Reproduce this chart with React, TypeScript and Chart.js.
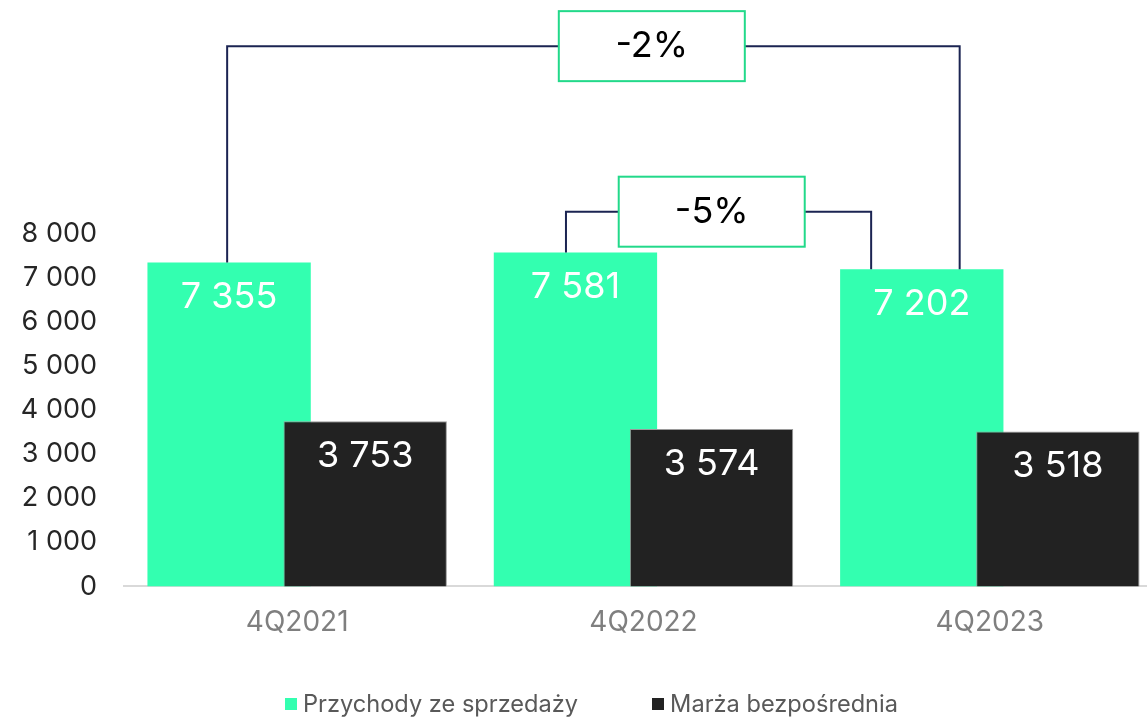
import React, { useEffect, useRef } from 'react';
import { Chart, registerables } from 'chart.js';

Chart.register(...registerables);

const categories = ['4Q2021', '4Q2022', '4Q2023'];
const seriesNames = ['Przychody ze sprzedaży', 'Marża bezpośrednia'];
const revenue = [7355, 7581, 7202];
const margin = [3753, 3574, 3518];
const yTickValues = [0, 1000, 2000, 3000, 4000, 5000, 6000, 7000, 8000];
const changeLabels = ['-2%', '-5%'];

const GREEN = '#33ffb0';
const DARK = '#222222';
const NAVY = '#1b2452';
const BOX_GREEN = '#22d98a';
const FONT = 'Inter, "Noto Sans", sans-serif';

const fmt = (v: number) => String(v).replace(/\B(?=(\d{3})+(?!\d))/g, ' ');

// bracket annotations: which revenue bars are connected
const brackets = [
  { from: 0, to: 2, fromOff: -0.012, toOff: 0.232, level: 12270, boxAt: 1.024, text: changeLabels[0] },
  { from: 1, to: 2, fromOff: -0.058, toOff: -0.31, level: 8510, boxAt: 1.197, text: changeLabels[1] },
];

const customPlugin = {
  id: 'customDraw',
  beforeDatasetDraw(chart: any, args: any) {
    if (args.index === 1) return false;
  },
  afterDatasetsDraw(chart: any) {
    const ctx = chart.ctx;
    // draw the second series on top of the first
    const m1 = chart.getDatasetMeta(1);
    ctx.save();
    m1.controller.draw();
    ctx.restore();

    // value labels
    ctx.save();
    ctx.fillStyle = '#ffffff';
    ctx.font = `36px ${FONT}`;
    ctx.textAlign = 'center';
    ctx.textBaseline = 'middle';
    [0, 1].forEach((di) => {
      const meta = chart.getDatasetMeta(di);
      const data = chart.data.datasets[di].data as number[];
      meta.data.forEach((el: any, i: number) => {
        ctx.fillText(fmt(data[i]), el.x, el.y + 35);
      });
    });
    ctx.restore();

    // brackets
    const m0 = chart.getDatasetMeta(0);
    const xScale = chart.scales.x;
    const yScale = chart.scales.y;
    brackets.forEach((b) => {
      const a: any = m0.data[b.from];
      const c: any = m0.data[b.to];
      const x1 = a.x + b.fromOff * a.width;
      const x2 = c.x + b.toOff * c.width;
      const ly = yScale.getPixelForValue(b.level);
      ctx.save();
      ctx.strokeStyle = NAVY;
      ctx.lineWidth = 2;
      ctx.beginPath();
      ctx.moveTo(x1, a.y);
      ctx.lineTo(x1, ly);
      ctx.lineTo(x2, ly);
      ctx.lineTo(x2, c.y);
      ctx.stroke();
      const bx = xScale.getPixelForValue(b.boxAt);
      const bw = 186;
      const bh = 70;
      ctx.fillStyle = '#ffffff';
      ctx.fillRect(bx - bw / 2, ly - bh / 2, bw, bh);
      ctx.strokeStyle = BOX_GREEN;
      ctx.lineWidth = 2;
      ctx.strokeRect(bx - bw / 2, ly - bh / 2, bw, bh);
      ctx.fillStyle = '#000000';
      ctx.font = `36px ${FONT}`;
      ctx.textAlign = 'center';
      ctx.textBaseline = 'middle';
      ctx.fillText(b.text, bx, ly);
      ctx.restore();
    });
  },
};

export default function App() {
  const ref = useRef<HTMLCanvasElement | null>(null);

  useEffect(() => {
    document.body.style.overflow = 'hidden';
    const canvas = ref.current;
    if (!canvas) return;
    const chart = new Chart(canvas, {
      type: 'bar',
      data: {
        labels: categories,
        datasets: [
          {
            label: seriesNames[0],
            data: revenue,
            backgroundColor: GREEN,
            borderWidth: 0,
            categoryPercentage: 0.786,
            barPercentage: 1.2,
          },
          {
            label: seriesNames[1],
            data: margin,
            backgroundColor: DARK,
            borderColor: '#9a9a9a',
            borderWidth: 1,
            categoryPercentage: 0.786,
            barPercentage: 1.2,
          },
        ],
      },
      options: {
        animation: false,
        responsive: false,
        devicePixelRatio: 1,
        layout: { padding: { top: 14, right: 20, bottom: 61, left: 0 } },
        plugins: {
          legend: { display: false },
          tooltip: { enabled: false },
        },
        scales: {
          x: {
            offset: true,
            grid: { display: false, drawTicks: false },
            border: { display: true, color: '#d9d9d9', width: 2 },
            ticks: {
              color: '#7f7f7f',
              font: { family: FONT, size: 28 },
              padding: 19,
            },
            afterFit: (s: any) => {
              s.paddingLeft = 0;
              s.paddingRight = 0;
            },
          },
          y: {
            min: 0,
            max: 13000,
            grid: { display: false, drawTicks: false },
            border: { display: false },
            ticks: {
              color: '#262626',
              font: { family: FONT, size: 27 },
              padding: 27,
              callback: (v: any) => fmt(Number(v)),
            },
            afterBuildTicks: (s: any) => {
              s.ticks = yTickValues.map((v) => ({ value: v }));
            },
            afterFit: (s: any) => {
              s.width = 124;
              s.paddingTop = 0;
              s.paddingBottom = 0;
            },
          },
        },
      },
      plugins: [customPlugin],
    });
    return () => chart.destroy();
  }, []);

  const legendItem = (color: string, text: string) => (
    <div style={{ display: 'flex', alignItems: 'center' }}>
      <span style={{ width: 12, height: 12, background: color, display: 'inline-block', marginRight: 6 }} />
      <span>{text}</span>
    </div>
  );

  return (
    <div style={{ position: 'fixed', left: 0, top: 0, width: 1183, height: 719, background: '#fff' }}>
      <canvas ref={ref} width={1183} height={719} style={{ display: 'block' }} />
      <div
        style={{
          position: 'absolute',
          left: 0,
          top: 688,
          width: 1183,
          height: 32,
          display: 'flex',
          justifyContent: 'center',
          alignItems: 'center',
          gap: 74,
          fontFamily: FONT,
          fontSize: 23.6,
          color: '#595959',
          lineHeight: '32px',
        }}
      >
        {legendItem(GREEN, seriesNames[0])}
        {legendItem(DARK, seriesNames[1])}
      </div>
    </div>
  );
}
